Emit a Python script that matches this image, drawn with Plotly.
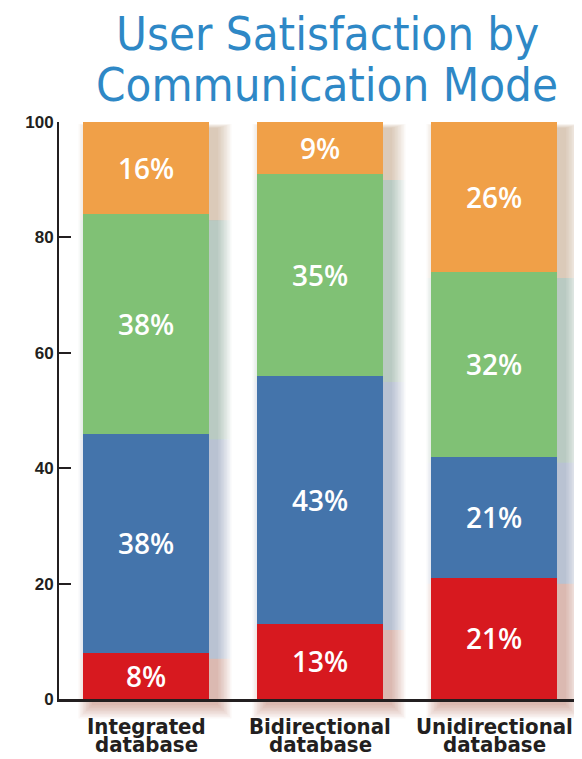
import plotly.graph_objects as go

categories = ["Integrated database", "Bidirectional database", "Unidirectional database"]
label_line1 = ["Integrated", "Bidirectional", "Unidirectional"]
label_line2 = ["database", "database", "database"]
series_names = ["Very dissatisfied", "Dissatisfied", "Satisfied", "Very satisfied"]
red_vals = [8, 13, 21]
blue_vals = [38, 43, 21]
green_vals = [38, 35, 32]
orange_vals = [16, 9, 26]
series_vals = [red_vals, blue_vals, green_vals, orange_vals]
colors = ["#d7191f", "#4474ab", "#80c175", "#f0a048"]
shadow_colors = ["#a8452c", "#3d5592", "#4f7d55", "#9a6a40"]
title_lines = ["User Satisfaction by", "Communication Mode"]
y_ticks = [0, 20, 40, 60, 80, 100]

W, H = 574, 751          # page body has an 8px margin
ML, MR, MT, MB = 51, 1, 114, 60
PW = W - ML - MR
PH = H - MT - MB
BARGAP = 0.276
px_x = 3 / PW            # x data units per pixel
px_y = 1 / PH            # paper units per pixel

fig = go.Figure()
for name, vals, col in zip(series_names, series_vals, colors):
    fig.add_trace(go.Bar(
        x=categories, y=vals, name=name, marker=dict(color=col, line=dict(width=0)),
        text=[f"{v}%" for v in vals], textposition="inside", insidetextanchor="middle",
        textfont=dict(color="white", size=28, family="Open Sans", weight=600),
        constraintext="none",
    ))

# soft drop shadows behind each stacked segment
shapes = []
half = (1 - BARGAP) / 2
n_layers = 10
dx, dy = 9, 6
for ci in range(len(categories)):
    base = 0
    for si, vals in enumerate(series_vals):
        v = vals[ci]
        top = base + v
        is_top = si == len(series_vals) - 1
        for k in range(n_layers):
            s = k * 1.5
            y0 = base / 100 - (dy + (s if base == 0 else 0)) * px_y
            y1 = top / 100 - dy * px_y + (s * 0.3 * px_y if is_top else 0)
            shapes.append(dict(
                type="rect", xref="x", yref="paper", layer="below",
                x0=ci - half + (dx - s) * px_x, x1=ci + half + (dx + s) * px_x,
                y0=y0, y1=y1, fillcolor=shadow_colors[si], opacity=0.045,
                line=dict(width=0)))
        base = top

fig.update_layout(
    barmode="stack", bargap=BARGAP, showlegend=False,
    width=W, height=H,
    margin=dict(l=ML, r=MR, t=MT, b=MB),
    plot_bgcolor="rgba(0,0,0,0)", paper_bgcolor="white",
    shapes=shapes,
)
fig.update_xaxes(showticklabels=False, showline=True, linecolor="#231f20", linewidth=3,
                 ticks="", showgrid=False, range=[-0.5, 2.5])
fig.update_yaxes(range=[0, 100], tickvals=y_ticks, ticks="inside", ticklen=12, tickwidth=2,
                 tickcolor="#231f20", showline=True, linecolor="#231f20", linewidth=2,
                 showgrid=False, zeroline=False,
                 tickfont=dict(family="Liberation Sans", size=17, color="#231f20", weight="bold"))

title_font = "Liberation Sans Narrow, DejaVu Sans Condensed"
for i, t in enumerate(title_lines):
    fig.add_annotation(text=t, xref="paper", yref="paper", x=(319 - ML) / PW,
                       y=1 + (MT - 26 - 50 * i) / PH, xanchor="center", yanchor="middle",
                       showarrow=False,
                       font=dict(family=title_font, size=47, color="#2e88c6"))

for c, l1, l2 in zip(categories, label_line1, label_line2):
    fig.add_annotation(text=l1, x=c, xref="x", yref="paper", y=-(27) / PH,
                       yanchor="middle", showarrow=False,
                       font=dict(family=title_font, size=22, color="#231f20", weight="bold"))
    fig.add_annotation(text=l2, x=c, xref="x", yref="paper", y=-(45) / PH,
                       yanchor="middle", showarrow=False,
                       font=dict(family=title_font, size=22, color="#231f20", weight="bold"))

fig.write_html("out.html")
